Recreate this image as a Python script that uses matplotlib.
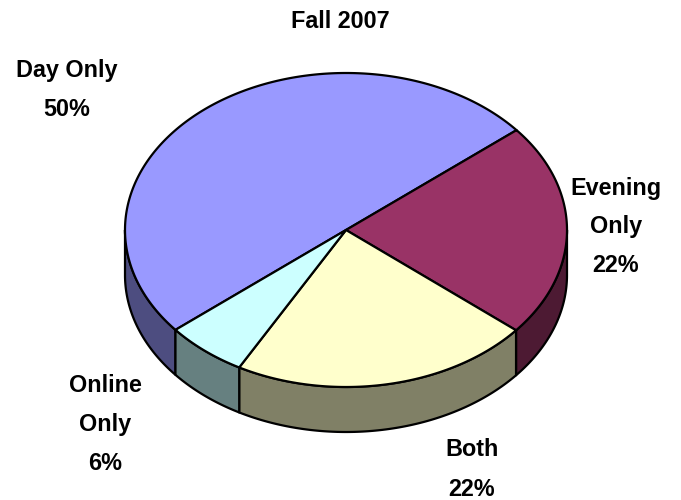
import numpy as np
import matplotlib
matplotlib.use("Agg")
import matplotlib.pyplot as plt
from matplotlib.patches import Polygon

# ── Data ────────────────────────────────────────────────────────────────
labels = ["Day Only", "Evening\nOnly", "Both", "Online\nOnly"]
values = [50, 22, 22, 6]
top_colors = ["#9999FF", "#993366", "#FFFFCC", "#CCFFFF"]
title = "Fall 2007"

# ── Geometry of the tilted pie (pixel space) ────────────────────────────
cx, cy = 346, 230        # centre of top face
rx, ry = 221, 157        # ellipse radii
depth = 45               # thickness of the pie
start = 219.5            # parametric angle where first slice starts (deg)

plt.rcParams['font.family'] = ['Liberation Sans', 'DejaVu Sans']

fig = plt.figure(figsize=(6.81, 5.0), dpi=100)
ax = fig.add_axes([0, 0, 1, 1])
ax.set_xlim(0, 681)
ax.set_ylim(500, 0)
ax.axis('off')


def ell(t, dy=0.0):
    t = np.radians(t)
    return np.column_stack([cx + rx * np.cos(t), cy - ry * np.sin(t) + dy])


def darker(c, f=0.5):
    r, g, b = matplotlib.colors.to_rgb(c)
    return (r * f, g * f, b * f)


fracs = np.array(values, float) / sum(values)
bounds = start - np.concatenate([[0], np.cumsum(fracs) * 360])

# side walls (only the front half: parametric angles 180..360)
for i, col in enumerate(top_colors):
    a0, a1 = bounds[i + 1], bounds[i]          # a0 < a1 (clockwise slices)
    for off in (-360, 0, 360):
        lo = max(a0 + off, 180)
        hi = min(a1 + off, 360)
        if hi > lo:
            t = np.linspace(lo, hi, 120)
            pts = np.vstack([ell(t), ell(t[::-1], depth)])
            ax.add_patch(Polygon(pts, closed=True, facecolor=darker(col),
                                 edgecolor='black', linewidth=1.6,
                                 joinstyle='round'))

# top faces
for i, col in enumerate(top_colors):
    t = np.linspace(bounds[i + 1], bounds[i], 240)
    pts = np.vstack([[cx, cy], ell(t)])
    ax.add_patch(Polygon(pts, closed=True, facecolor=col,
                         edgecolor='black', linewidth=1.6, joinstyle='round'))

# ── Text ────────────────────────────────────────────────────────────────
fs = 16.8
ax.text(340, 22, title, ha='center', va='center', fontsize=fs, fontweight='bold')

label_pos = [(67, 71), (616, 188), (472, 450), (105, 385)]
line_gap = 39
for (x, y), lab, v in zip(label_pos, labels, values):
    lines = lab.split("\n") + [f"{v}%"]
    for k, s in enumerate(lines):
        ax.text(x, y + k * line_gap, s, ha='center', va='center',
                fontsize=fs, fontweight='bold')

fig.savefig("out.png", dpi=100)
